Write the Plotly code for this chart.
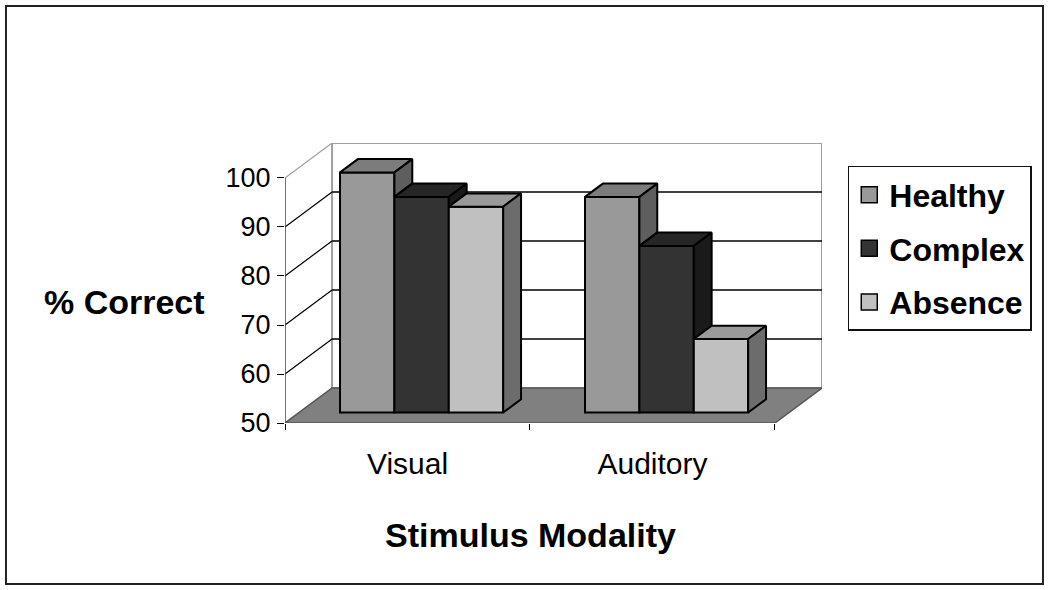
import plotly.graph_objects as go

# ---------------- data ----------------
categories = ["Visual", "Auditory"]
series_names = ["Healthy", "Complex", "Absence"]
healthy = [99, 94]
complex_ = [94, 84]
absence = [92, 65]
y_tick_values = [50, 60, 70, 80, 90, 100]
x_title = "Stimulus Modality"
y_title = "% Correct"

# ---------------- style ----------------
front_colors = ["#999999", "#333333", "#c0c0c0"]
top_colors = ["#7c7c7c", "#262626", "#9a9a9a"]
side_colors = ["#5e5e5e", "#1a1a1a", "#6c6c6c"]
FONT = "Liberation Sans, Arial, sans-serif"

Y0, YMAX = 50, 100          # value axis floor / top
DX, DY = 0.192, 7.14        # oblique depth of the box (x in category units, y in value units)
F0, FD = 0.30, 0.38         # front position and depth of bars (fraction of box depth)
W = 0.222                   # bar width in category units

series = [healthy, complex_, absence]
ncat = len(categories)
base = Y0 + F0 * DY
ddx, ddy = FD * DX, FD * DY

fig = go.Figure()

# front faces (real bars)
bar_x = []
for j, vals in enumerate(series):
    xs = [i + 0.5 + F0 * DX + (j - 1) * W for i in range(ncat)]
    bar_x.append(xs)
    fig.add_trace(go.Bar(
        x=xs, y=[v - Y0 for v in vals], base=base, width=W,
        name=series_names[j], legendgroup=series_names[j], showlegend=False,
        marker=dict(color=front_colors[j], line=dict(color="black", width=2)),
        hoverinfo="skip",
    ))

# top and side faces, painter's order left to right
for i in range(ncat):
    for j, vals in enumerate(series):
        xc = bar_x[j][i]
        x0, x1 = xc - W / 2, xc + W / 2
        t = vals[i] + F0 * DY
        fig.add_trace(go.Scatter(
            x=[x0, x1, x1 + ddx, x0 + ddx, x0],
            y=[t, t, t + ddy, t + ddy, t],
            mode="lines", fill="toself", fillcolor=top_colors[j],
            line=dict(color="black", width=2), showlegend=False, hoverinfo="skip",
        ))
        if j < len(series) - 1:
            t2 = series[j + 1][i] + F0 * DY
            if t <= t2:
                continue
            lower = t2
        else:
            lower = base
        fig.add_trace(go.Scatter(
            x=[x1, x1, x1 + ddx, x1 + ddx, x1],
            y=[lower, t, t + ddy, lower + ddy, lower],
            mode="lines", fill="toself", fillcolor=side_colors[j],
            line=dict(color="black", width=2), showlegend=False, hoverinfo="skip",
        ))

# legend entries (square swatches like the reference)
for j, name in enumerate(series_names):
    fig.add_trace(go.Scatter(
        x=[None], y=[None], mode="markers", name=name, legendgroup=name,
        marker=dict(symbol="square", size=16, color=front_colors[j],
                    line=dict(color="black", width=1.5)),
        hoverinfo="skip",
    ))

# ---------------- walls, floor, grid ----------------
shapes = []
# back wall
shapes.append(dict(type="rect", xref="x", yref="y", x0=DX, x1=ncat + DX, y0=Y0 + DY, y1=YMAX + DY,
                   fillcolor="white", line=dict(color="#a0a0a0", width=2), layer="below"))
# floor
shapes.append(dict(type="path", xref="x", yref="y",
                   path=f"M 0,{Y0} L {ncat},{Y0} L {ncat + DX},{Y0 + DY} L {DX},{Y0 + DY} Z",
                   fillcolor="#808080", line=dict(color="#555555", width=1.5), layer="below"))
for v in y_tick_values[1:]:
    col = "#a0a0a0" if v == YMAX else "black"
    if v != YMAX:
        shapes.append(dict(type="line", xref="x", yref="y", x0=DX, x1=ncat + DX, y0=v + DY, y1=v + DY,
                           line=dict(color="black", width=1.3), layer="below"))
    shapes.append(dict(type="line", xref="x", yref="y", x0=0, x1=DX, y0=v, y1=v + DY,
                       line=dict(color=col, width=1.2), layer="below"))
# front vertical axis line
shapes.append(dict(type="line", xref="x", yref="y", x0=0, x1=0, y0=Y0, y1=YMAX,
                   line=dict(color="#444444", width=1.5), layer="below"))
# outer frame
shapes.append(dict(type="rect", xref="paper", yref="paper", x0=-0.5196, x1=1.4115, y0=-0.575, y1=1.489,
                   line=dict(color="#222222", width=2), fillcolor="rgba(0,0,0,0)", layer="below"))

fig.update_layout(
    width=1050, height=590, autosize=False,
    margin=dict(l=285, r=228, t=143, b=167, pad=0),
    paper_bgcolor="white", plot_bgcolor="white",
    font=dict(family=FONT, color="black"),
    barmode="overlay",
    shapes=shapes,
    showlegend=True,
    legend=dict(x=1.048, y=0.918, xanchor="left", yanchor="top",
                bordercolor="#111111", borderwidth=1.5, bgcolor="white",
                font=dict(size=32, family=FONT, weight="bold"),
                traceorder="grouped", tracegroupgap=9, itemclick=False,
                itemwidth=30),
    annotations=[
        dict(text=y_title, xref="paper", yref="paper", x=-0.298, y=0.432, showarrow=False,
             xanchor="center", yanchor="middle",
             font=dict(size=34, family=FONT, weight="bold")),
        dict(text=x_title, xref="paper", yref="paper", x=0.458, y=-0.40, showarrow=False,
             xanchor="center", yanchor="middle",
             font=dict(size=34, family=FONT, weight="bold")),
    ],
)
fig.update_xaxes(range=[0, ncat + DX], tickvals=[i + 0.5 for i in range(ncat)], ticktext=categories,
                 ticks="", showgrid=False, zeroline=False, showline=False,
                 tickfont=dict(size=30, family=FONT), ticklabelstandoff=20,
                 minor=dict(tickvals=list(range(ncat + 1)), ticks="outside", ticklen=6,
                            tickcolor="black", tickwidth=1.2, showgrid=False))
fig.update_yaxes(range=[Y0, YMAX + DY], tickvals=y_tick_values, ticks="outside", ticklen=7,
                 tickcolor="black", tickwidth=1.2, showgrid=False, zeroline=False, showline=False,
                 tickfont=dict(size=27, family=FONT), ticklabelstandoff=1)

fig.write_html("out.html", config={"displayModeBar": False},
               post_script="document.body.style.margin='0';")
